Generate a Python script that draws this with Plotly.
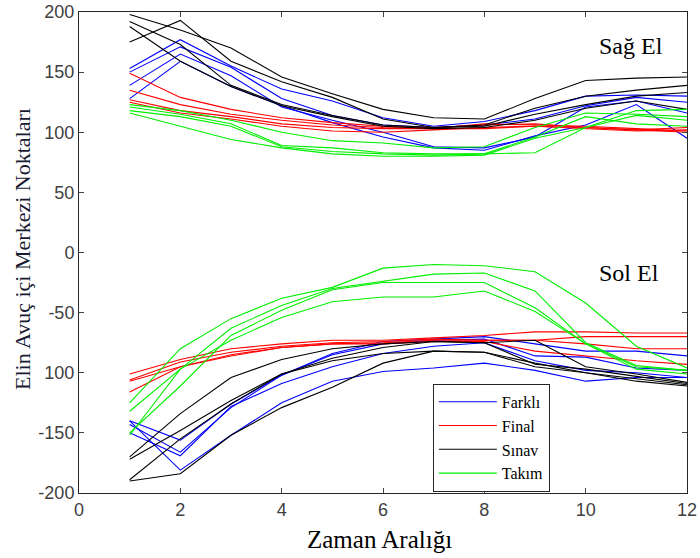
import plotly.graph_objects as go

x_vals = list(range(1, 13))

# Right hand (Sağ El)
sag_farkli = [
    [153, 177, 155, 136, 126, 112, 105, 109, 118, 130, 131, 130],
    [150, 171, 154, 128, 114, 106, 104, 106, 111, 122, 129, 125],
    [139, 165, 147, 121, 110, 100, 88, 87, 96, 121, 126, 116],
    [128, 159, 138, 122, 108, 96, 87, 85, 97, 106, 123, 95],
]
sag_final = [
    [149, 129, 119, 112, 108, 105, 104, 106, 107, 104, 102, 104],
    [135, 123, 115, 110, 106, 104, 103, 107, 106, 105, 103, 101],
    [127, 118, 113, 107, 104, 103, 103, 103, 105, 104, 102, 100],
    [125, 116, 111, 105, 101, 100, 102, 104, 105, 103, 101, 102],
]
sag_sinav = [
    [198, 185, 170, 146, 132, 119, 112, 111, 128, 143, 145, 146],
    [175, 193, 159, 142, 129, 111, 104, 106, 120, 130, 135, 139],
    [192, 173, 139, 123, 114, 106, 104, 105, 115, 123, 130, 133],
    [188, 159, 138, 122, 113, 105, 103, 104, 110, 120, 126, 119],
]
sag_takim = [
    [123, 118, 110, 100, 93, 91, 87, 88, 104, 116, 115, 113],
    [121, 115, 107, 89, 87, 83, 82, 82, 96, 113, 107, 105],
    [118, 113, 105, 88, 84, 82, 81, 82, 83, 104, 118, 119],
    [116, 105, 94, 87, 82, 80, 80, 81, 95, 104, 114, 110],
]

# Left hand (Sol El)
sol_farkli = [
    [-140, -156, -126, -102, -84, -74, -72, -70, -76, -82, -82, -86],
    [-143, -166, -129, -102, -85, -76, -73, -72, -86, -87, -96, -98],
    [-150, -169, -128, -109, -95, -84, -78, -75, -90, -98, -100, -104],
    [-140, -181, -152, -125, -107, -99, -96, -92, -98, -107, -104, -104],
]
sol_final = [
    [-101, -89, -80, -76, -73, -73, -71, -69, -66, -66, -67, -67],
    [-106, -91, -83, -78, -75, -74, -72, -73, -73, -70, -70, -70],
    [-107, -95, -85, -79, -76, -75, -73, -73, -73, -76, -80, -80],
    [-116, -95, -86, -79, -76, -76, -74, -74, -82, -86, -90, -93],
]
sol_sinav = [
    [-170, -134, -104, -89, -80, -76, -74, -75, -73, -95, -101, -108],
    [-172, -148, -123, -101, -88, -79, -74, -75, -93, -97, -103, -109],
    [-189, -155, -126, -101, -90, -84, -82, -83, -92, -100, -105, -110],
    [-190, -184, -152, -129, -112, -92, -82, -83, -95, -100, -107, -111],
]
sol_takim = [
    [-125, -80, -55, -38, -29, -13, -10, -11, -16, -42, -78, -96],
    [-132, -97, -63, -44, -30, -24, -18, -17, -32, -75, -94, -98],
    [-150, -111, -69, -48, -31, -25, -25, -25, -46, -76, -97, -101],
    [-152, -97, -73, -54, -41, -37, -37, -32, -49, -76, -95, -98],
]

group_names = ["Farklı", "Final", "Sınav", "Takım"]
group_colors = ["#0000ff", "#ff0000", "#000000", "#00ee00"]
sag_groups = [sag_farkli, sag_final, sag_sinav, sag_takim]
sol_groups = [sol_farkli, sol_final, sol_sinav, sol_takim]

y_tick_vals = [-200, -150, -100, -50, 0, 50, 100, 150, 200]
y_tick_text = ["-200", "-150", "100", "-50", "0", "50", "100", "150", "200"]
x_tick_vals = [0, 2, 4, 6, 8, 10, 12]

fig = go.Figure()
for name, color, sag, sol in zip(group_names, group_colors, sag_groups, sol_groups):
    first = True
    for series in sag + sol:
        fig.add_trace(go.Scatter(
            x=x_vals, y=series, mode="lines", name=name, legendgroup=name,
            showlegend=first, line=dict(color=color, width=1.1),
        ))
        first = False

serif = "Liberation Serif"
sans = "Liberation Sans"
axis_col = "#262626"

fig.update_layout(
    width=700, height=558,
    margin=dict(l=79, r=13, t=12, b=65, autoexpand=False),
    paper_bgcolor="white", plot_bgcolor="white",
    font=dict(family=serif, color="black"),
    showlegend=True,
    legend=dict(
        x=0.582, y=0.227, xanchor="left", yanchor="top",
        bgcolor="white", bordercolor="#262626", borderwidth=1,
        font=dict(family=serif, size=16, color="black"),
        tracegroupgap=0, itemwidth=58,
    ),
    annotations=[
        dict(x=11.56, y=172, xref="x", yref="y", text="Sağ El", showarrow=False,
             xanchor="right", yanchor="middle",
             font=dict(family=serif, size=24, color="black")),
        dict(x=11.48, y=-17, xref="x", yref="y", text="Sol El", showarrow=False,
             xanchor="right", yanchor="middle",
             font=dict(family=serif, size=24, color="black")),
        dict(x=0.495, y=-0.0977, xref="paper", yref="paper", text="Zaman Aralığı",
             showarrow=False, xanchor="center", yanchor="middle",
             font=dict(family=serif, size=25, color="black")),
        dict(x=-0.094, y=0.507, xref="paper", yref="paper",
             text="Elin Avuç içi Merkezi Noktaları", textangle=-90,
             showarrow=False, xanchor="center", yanchor="middle",
             font=dict(family=serif, size=22, color="#1a1a33")),
    ],
)
fig.update_xaxes(
    range=[0, 12], tickvals=x_tick_vals, ticks="inside", ticklen=5,
    showline=True, linecolor=axis_col, linewidth=1, mirror="ticks",
    showgrid=False, zeroline=False, automargin=False,
    tickfont=dict(family=sans, size=18, color="#404040"),
)
fig.update_yaxes(
    range=[-200, 200], tickvals=y_tick_vals, ticktext=y_tick_text,
    ticks="inside", ticklen=5,
    showline=True, linecolor=axis_col, linewidth=1, mirror="ticks",
    showgrid=False, zeroline=False, automargin=False,
    tickfont=dict(family=sans, size=18, color="#404040"),
)

fig.write_html("out.html", config={"displayModeBar": False},
               post_script="document.body.style.margin='0';document.body.style.padding='0';")
